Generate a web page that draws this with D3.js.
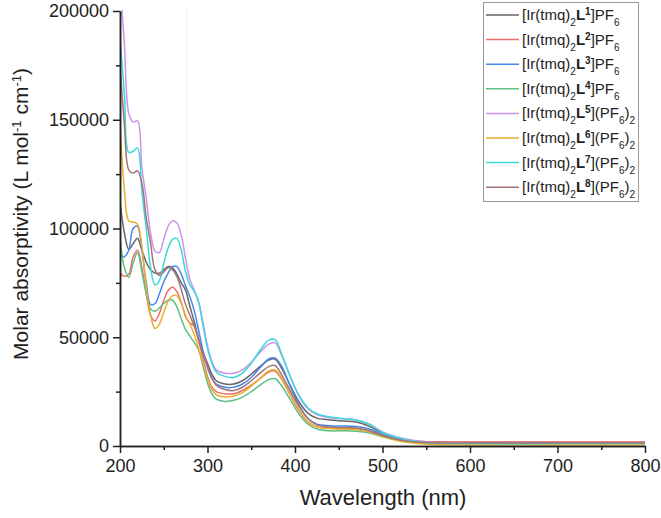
<!DOCTYPE html>
<html>
<head>
<meta charset="utf-8">
<script src="https://cdn.jsdelivr.net/npm/d3@7"></script>
<style>
  body { margin: 0; background: #fff; }
  svg { display: block; font-family: "Liberation Sans", Arial, sans-serif; }
</style>
</head>
<body>
<div id="chart"></div>
<script>
// wavelengths (nm) at which the spectra are sampled
var wavelengths = [200, 205, 210, 215, 220, 225, 230, 235, 240, 245, 250, 255, 260, 265, 270, 275, 280, 285, 290, 295, 300, 305, 310, 320, 330, 340, 350, 360, 370, 377, 385, 395, 405, 415, 425, 440, 455, 470, 485, 500, 520, 540, 560, 600, 700, 800];

var epsL1 = [112000, 98000, 90500, 93000, 95500, 90000, 84500, 81000, 79500, 79500, 81000, 82500, 82000, 79000, 75000, 71500, 64000, 57000, 49000, 43000, 38000, 33000, 30000, 28500, 28500, 30000, 33000, 36500, 39500, 40000, 35500, 27500, 20000, 15000, 12800, 12000, 11500, 11000, 9000, 6000, 3500, 2200, 1800, 1700, 1700, 1700];
var epsL2 = [79500, 78000, 79000, 87000, 90000, 82000, 70000, 60000, 57500, 61000, 67000, 71500, 73000, 71000, 66000, 59500, 56500, 55000, 48000, 40000, 32000, 27000, 25000, 24000, 24000, 25500, 28000, 31000, 34000, 34500, 30500, 23000, 16000, 11000, 8800, 8200, 8000, 7800, 6800, 4800, 3000, 2200, 1900, 1800, 1800, 1800];
var epsL3 = [87500, 87000, 90000, 100000, 101000, 90000, 75000, 65000, 65500, 70000, 75500, 79500, 82500, 82500, 79000, 73500, 68500, 62000, 53000, 43500, 36000, 31000, 28500, 27000, 27000, 28500, 31500, 36000, 40000, 40500, 36500, 27000, 18500, 12500, 10000, 9300, 9200, 9000, 7800, 5200, 2800, 1700, 1500, 1300, 1300, 1300];
var epsL4 = [95500, 82000, 77500, 84000, 89000, 80000, 70000, 63000, 62000, 63500, 65500, 67000, 67000, 64000, 58500, 53500, 50500, 47500, 44000, 36500, 29000, 24000, 21500, 20500, 21000, 22500, 25000, 28000, 30500, 31000, 27500, 21000, 14500, 10000, 7800, 7000, 7000, 6800, 6000, 4200, 2400, 1500, 1200, 1100, 1100, 1100];
var epsL5 = [212000, 185000, 153000, 149000, 149500, 128000, 114000, 98000, 89500, 89000, 95000, 101000, 103500, 102500, 97000, 86000, 76500, 71500, 66000, 56500, 46000, 39000, 35000, 33500, 33500, 35000, 38500, 43000, 46800, 47500, 41500, 31500, 22500, 17000, 14500, 13000, 12500, 12000, 10000, 6500, 3800, 2300, 1600, 1300, 1300, 1300];
var epsL6 = [148000, 118000, 103500, 103000, 102000, 92000, 73000, 60000, 54000, 56000, 61500, 66500, 69000, 69000, 65500, 60000, 56000, 51000, 44500, 38000, 31000, 26000, 23500, 22500, 23000, 24500, 27500, 31000, 34500, 35000, 31000, 23500, 16500, 11000, 8800, 8000, 7800, 7600, 6500, 4300, 2200, 1100, 700, 500, 500, 500];
var epsL7 = [187000, 162000, 135000, 135500, 137000, 117000, 100000, 82000, 74000, 76000, 84000, 91000, 95000, 95500, 90000, 80000, 74000, 71000, 66000, 55000, 45000, 38000, 34000, 32000, 31500, 33500, 38000, 44000, 48700, 49000, 42000, 31500, 23000, 17500, 14800, 13300, 12600, 12000, 10000, 6200, 3500, 2000, 1400, 1100, 1100, 1100];
var epsL8 = [175000, 148000, 127000, 125500, 126500, 121000, 105000, 93000, 81000, 78500, 80000, 82000, 81000, 78000, 72000, 65000, 60000, 55000, 49000, 42000, 37000, 31500, 28000, 26000, 25500, 27000, 30000, 33500, 36500, 37000, 32500, 25000, 18000, 12500, 9800, 8700, 8500, 8300, 7000, 4800, 2700, 1800, 1500, 1400, 1400, 1400];

var ligands = ["1", "2", "3", "4", "5", "6", "7", "8"];
var counterions = ["PF6", "PF6", "PF6", "PF6", "(PF6)2", "(PF6)2", "(PF6)2", "(PF6)2"];
var colors = ["#666666", "#f26b6b", "#4a86e8", "#5cbf82", "#c994ee", "#e8b02e", "#3cd8d8", "#a07575"];
var allSeries = [epsL1, epsL2, epsL3, epsL4, epsL5, epsL6, epsL7, epsL8];

var xTicks = [200, 300, 400, 500, 600, 700, 800];
var xMinor = [250, 350, 450, 550, 650, 750];
var yTicks = [0, 50000, 100000, 150000, 200000];
var yMinor = [25000, 75000, 125000, 175000];

var width = 661,
	height = 518;

var svg = d3.select("#chart").append("svg")
	.attr("width", width)
	.attr("height", height);

var x = d3.scaleLinear().domain([200, 800]).range([120, 645]);
var y = d3.scaleLinear().domain([0, 200000]).range([446, 11]);

// faint scanning artifact line in the original figure
svg.append("line")
	.attr("x1", 187).attr("x2", 187)
	.attr("y1", 8).attr("y2", 300)
	.attr("stroke", "#f1f1f1")
	.attr("stroke-width", 1);

svg.append("clipPath").attr("id", "plotclip")
	.append("rect")
	.attr("x", 120).attr("y", 10)
	.attr("width", 530).attr("height", 437);

var line = d3.line()
	.x(function(d) { return x(d[0]); })
	.y(function(d) { return y(d[1]); })
	.curve(d3.curveCatmullRom.alpha(0.5));

var lines = svg.append("g").attr("clip-path", "url(#plotclip)");

allSeries.forEach(function(vals, i) {
	var pts = wavelengths.map(function(w, j) { return [w, vals[j]]; });
	lines.append("path")
		.attr("d", line(pts))
		.attr("fill", "none")
		.attr("stroke", colors[i])
		.attr("stroke-width", 1.5);
});

// axes
svg.append("g")
	.attr("transform", "translate(0,446)")
	.call(d3.axisBottom(x).tickValues(xTicks).tickSize(7).tickSizeOuter(0).tickPadding(6).tickFormat(d3.format("d")));

svg.append("g")
	.attr("transform", "translate(0,446)")
	.call(d3.axisBottom(x).tickValues(xMinor).tickSize(4).tickSizeOuter(0).tickFormat(""));

svg.append("g")
	.attr("transform", "translate(120,0)")
	.call(d3.axisLeft(y).tickValues(yTicks).tickSize(7).tickSizeOuter(0).tickPadding(4).tickFormat(d3.format("d")));

svg.append("g")
	.attr("transform", "translate(120,0)")
	.call(d3.axisLeft(y).tickValues(yMinor).tickSize(4).tickSizeOuter(0).tickFormat(""));

svg.selectAll(".domain").attr("stroke", "#222").attr("stroke-width", 1.5);
svg.selectAll(".tick line").attr("stroke", "#222").attr("stroke-width", 1.5);
svg.selectAll(".tick text")
	.attr("fill", "#222")
	.style("font-size", "18px")
	.style("font-family", "'Liberation Sans', Arial, sans-serif");

// axis titles
svg.append("text")
	.attr("x", 383)
	.attr("y", 505)
	.attr("text-anchor", "middle")
	.attr("fill", "#222")
	.style("font-size", "22px")
	.text("Wavelength (nm)");

var yTitle = svg.append("text")
	.attr("transform", "translate(28,214) rotate(-90)")
	.attr("text-anchor", "middle")
	.attr("fill", "#222")
	.style("font-size", "21px");
yTitle.append("tspan").text("Molar absorptivity (L mol");
yTitle.append("tspan").attr("baseline-shift", "super").style("font-size", "13px").text("-1");
yTitle.append("tspan").text(" cm");
yTitle.append("tspan").attr("baseline-shift", "super").style("font-size", "13px").text("-1");
yTitle.append("tspan").text(")");

// legend
var legend = svg.append("g");
legend.append("rect")
	.attr("x", 483.5).attr("y", 2.5)
	.attr("width", 155).attr("height", 199)
	.attr("fill", "#fff")
	.attr("stroke", "#999")
	.attr("stroke-width", 1);

ligands.forEach(function(lig, i) {
	var ry = 15 + i * 24.6;
	legend.append("line")
		.attr("x1", 486).attr("x2", 519)
		.attr("y1", ry).attr("y2", ry)
		.attr("stroke", colors[i])
		.attr("stroke-width", 1.5);

	var t = legend.append("text")
		.attr("x", 522)
		.attr("y", ry + 5)
		.attr("fill", "#222")
		.style("font-size", "15px");
	t.append("tspan").text("[Ir(tmq)");
	t.append("tspan").attr("baseline-shift", "sub").style("font-size", "10px").text("2");
	t.append("tspan").style("font-weight", "bold").text("L");
	t.append("tspan").attr("baseline-shift", "super").style("font-size", "10px").style("font-weight", "bold").text(lig);
	if (counterions[i] === "PF6") {
		t.append("tspan").text("]PF");
		t.append("tspan").attr("baseline-shift", "sub").style("font-size", "10px").text("6");
	} else {
		t.append("tspan").text("](PF");
		t.append("tspan").attr("baseline-shift", "sub").style("font-size", "10px").text("6");
		t.append("tspan").text(")");
		t.append("tspan").attr("baseline-shift", "sub").style("font-size", "10px").text("2");
	}
});
</script>
</body>
</html>
